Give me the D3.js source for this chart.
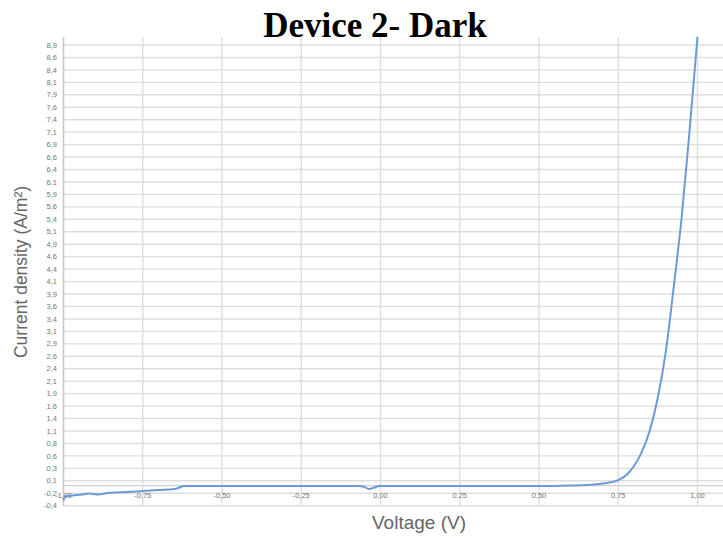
<!DOCTYPE html>
<html>
<head>
<meta charset="utf-8">
<script src="https://cdn.jsdelivr.net/npm/d3@7"></script>
<style>
  html, body { margin: 0; padding: 0; background: #fff; }
  svg { display: block; }
</style>
</head>
<body>
<svg id="chart" width="723" height="538"></svg>
<script>
// Dark J–V sweep of device 2
const voltage = [-1.00, -0.995, -0.97, -0.94, -0.92, -0.89, -0.86, -0.80, -0.75, -0.70, -0.65, -0.635, -0.62,
  -0.50, -0.25, -0.07, -0.05, -0.036, -0.02, -0.005, 0.25, 0.50, 0.60, 0.65, 0.70, 0.75, 0.78, 0.80, 0.82,
  0.85, 0.875, 0.90, 0.925, 0.95, 0.975, 1.00];
const current = [-0.30, -0.22, -0.20, -0.18, -0.16, -0.18, -0.15, -0.13, -0.11, -0.09, -0.07, -0.04, -0.01,
  -0.01, -0.01, -0.01, -0.03, -0.07, -0.04, -0.01, -0.01, -0.01, 0.00, 0.01, 0.04, 0.11, 0.24, 0.40, 0.62,
  1.12, 1.78, 2.70, 4.00, 5.40, 7.15, 9.04];

// Axis definitions
const xTicks = [-1.00, -0.75, -0.50, -0.25, 0.00, 0.25, 0.50, 0.75, 1.00];
const yMin = -0.405, yStep = 0.2508;
const yTickLabels = ["-0,4", "-0,2", "0,1", "0,3", "0,6", "0,8", "1,1", "1,4", "1,6", "1,9", "2,1", "2,4", "2,6",
  "2,9", "3,1", "3,4", "3,6", "3,9", "4,1", "4,4", "4,6", "4,9", "5,1", "5,4", "5,6", "5,9", "6,1", "6,4",
  "6,6", "6,9", "7,1", "7,4", "7,6", "7,9", "8,1", "8,4", "8,6", "8,9"];
const yTicks = yTickLabels.map((_, i) => yMin + i * yStep);
const yMax = yTicks[yTicks.length - 1];

const svg = d3.select("#chart");
const W = 723;
const plot = { left: 63.5, right: 697.5, top: 37, bottom: 505.7 };

const x = d3.scaleLinear().domain([-1, 1]).range([plot.left, plot.right]);
const y = d3.scaleLinear().domain([yMin, yMax]).range([plot.bottom, 45]);

const gridColor = "#dedede";
const labelColor = "#757575";

// Horizontal gridlines
svg.append("g")
  .selectAll("line")
  .data(yTicks)
  .join("line")
  .attr("x1", plot.left).attr("x2", W)
  .attr("y1", d => y(d)).attr("y2", d => y(d))
  .attr("stroke", gridColor).attr("stroke-width", 1.4);

// Vertical gridlines
svg.append("g")
  .selectAll("line")
  .data(xTicks.slice(1))
  .join("line")
  .attr("x1", d => x(d)).attr("x2", d => x(d))
  .attr("y1", plot.top).attr("y2", plot.bottom)
  .attr("stroke", gridColor).attr("stroke-width", 1.4);

// Zero line
svg.append("line")
  .attr("x1", plot.left).attr("x2", W)
  .attr("y1", y(0)).attr("y2", y(0))
  .attr("stroke", "#d0d0d0").attr("stroke-width", 1.4);

// Value axis line
svg.append("line")
  .attr("x1", plot.left).attr("x2", plot.left)
  .attr("y1", plot.top).attr("y2", plot.bottom)
  .attr("stroke", "#c8c8c8").attr("stroke-width", 1.6);

// Y tick labels
svg.append("g")
  .selectAll("text")
  .data(yTicks)
  .join("text")
  .attr("x", 57)
  .attr("y", d => y(d))
  .attr("dy", "0.35em")
  .attr("text-anchor", "end")
  .attr("font-family", "Liberation Sans, Arial, sans-serif")
  .attr("font-size", 7.5)
  .attr("fill", labelColor)
  .text((d, i) => yTickLabels[i]);

// X tick labels, drawn near the bottom of the plot
const fmtX = v => d3.format(".2f")(v).replace(".", ",").replace("−", "-");
svg.append("g")
  .selectAll("text")
  .data(xTicks)
  .join("text")
  .attr("x", d => x(d))
  .attr("y", 495)
  .attr("dy", "0.35em")
  .attr("text-anchor", "middle")
  .attr("font-family", "Liberation Sans, Arial, sans-serif")
  .attr("font-size", 7.5)
  .attr("fill", labelColor)
  .text(fmtX);

// J–V curve
const pts = voltage.map((v, i) => [v, current[i]]);
const line = d3.line()
  .x(d => x(d[0]))
  .y(d => y(d[1]))
  .curve(d3.curveMonotoneX);

svg.append("path")
  .datum(pts)
  .attr("d", line)
  .attr("fill", "none")
  .attr("stroke", "#6a9bd6")
  .attr("stroke-width", 2)
  .attr("stroke-linejoin", "round");

// Title
svg.append("text")
  .attr("x", 375)
  .attr("y", 37)
  .attr("text-anchor", "middle")
  .attr("font-family", "Liberation Serif, Times New Roman, serif")
  .attr("font-weight", "bold")
  .attr("font-size", 35)
  .attr("fill", "#000")
  .text("Device 2- Dark");

// Axis titles
svg.append("text")
  .attr("transform", "translate(27,272) rotate(-90)")
  .attr("text-anchor", "middle")
  .attr("font-family", "Liberation Sans, Arial, sans-serif")
  .attr("font-size", 17.5)
  .attr("fill", "#666")
  .text("Current density (A/m²)");

svg.append("text")
  .attr("x", 419)
  .attr("y", 529)
  .attr("text-anchor", "middle")
  .attr("font-family", "Liberation Sans, Arial, sans-serif")
  .attr("font-size", 19)
  .attr("fill", "#666")
  .text("Voltage (V)");
</script>
</body>
</html>
